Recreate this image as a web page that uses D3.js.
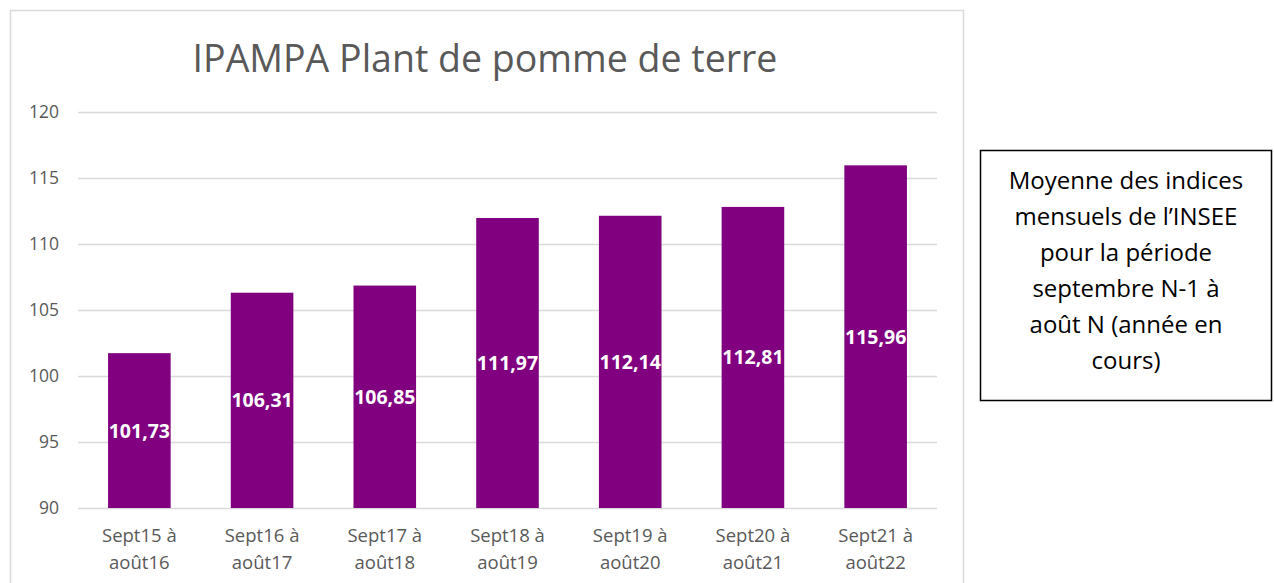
<!DOCTYPE html>
<html>
<head>
<meta charset="utf-8">
<script src="https://cdn.jsdelivr.net/npm/d3@7"></script>
<style>
  body { margin: 0; background: #fff; }
  svg { display: block; }
</style>
</head>
<body>
<div id="chart"></div>
<script>
const WIDTH = 1274;
const HEIGHT = 583;

// data
const periodsTop = ["Sept15 à", "Sept16 à", "Sept17 à", "Sept18 à", "Sept19 à", "Sept20 à", "Sept21 à"];
const periodsBottom = ["août16", "août17", "août18", "août19", "août20", "août21", "août22"];
const indexValues = [101.73, 106.31, 106.85, 111.97, 112.14, 112.81, 115.96];
const yTicks = [90, 95, 100, 105, 110, 115, 120];
const noteLines = ["Moyenne des indices", "mensuels de l’INSEE", "pour la période", "septembre N-1 à", "août N (année en", "cours)"];

var svg = d3.select("#chart")
            .append("svg")
            .attr("width", WIDTH)
            .attr("height", HEIGHT);

// chart area frame
svg.append("rect")
    .attr("x", 10.5)
    .attr("y", 10.5)
    .attr("width", 953)
    .attr("height", 600)
    .attr("fill", "#fff")
    .attr("stroke", "#d9d9d9")
    .attr("stroke-width", 1.5);

svg.append("text")
    .attr("x", 485)
    .attr("y", 72)
    .attr("text-anchor", "middle")
    .attr("fill", "#595959")
    .style("font-family", "'Open Sans', sans-serif")
    .style("font-size", "37.5px")
    .text("IPAMPA Plant de pomme de terre");

var x = d3.scaleBand()
            .domain(d3.range(indexValues.length))
            .range([78, 937])
            .paddingInner(0.49)
            .paddingOuter(0.245);

var y = d3.scaleLinear()
            .domain([90, 120])
            .range([508, 112]);

// gridlines
svg.append("g")
    .selectAll("line").data(yTicks)
    .enter().append("line")
    .attr("x1", 78)
    .attr("x2", 937)
    .attr("y1", d => Math.round(y(d)) + 0.5)
    .attr("y2", d => Math.round(y(d)) + 0.5)
    .attr("stroke", "#d9d9d9")
    .attr("stroke-width", 1.5);

// y axis labels
var yAxis = d3.axisLeft(y).tickValues(yTicks).tickSize(0).tickPadding(19);
var yg = svg.append("g")
    .attr("transform", "translate(78,0)")
    .call(yAxis);
yg.select(".domain").remove();
yg.selectAll("text")
    .attr("fill", "#595959")
    .style("font-family", "'Open Sans', sans-serif")
    .style("font-size", "17.5px");

// bars
svg.append("g")
    .selectAll("rect").data(indexValues)
    .enter().append("rect")
    .attr("x", (d, i) => x(i))
    .attr("y", d => y(d))
    .attr("width", x.bandwidth())
    .attr("height", d => y(90) - y(d))
    .attr("fill", "#800080");

// value labels, centred in the bar
svg.append("g")
    .selectAll("text").data(indexValues)
    .enter().append("text")
    .attr("x", (d, i) => x(i) + x.bandwidth() / 2)
    .attr("y", d => (y(d) + y(90)) / 2 + 7)
    .attr("text-anchor", "middle")
    .attr("fill", "#fff")
    .style("font-family", "'Open Sans', sans-serif")
    .style("font-weight", 700)
    .style("font-size", "19.5px")
    .text(d => d.toFixed(2).replace(".", ","));

// category labels (two lines)
var cats = svg.append("g")
    .selectAll("text").data(periodsTop)
    .enter().append("text")
    .attr("text-anchor", "middle")
    .attr("fill", "#595959")
    .style("font-family", "'Open Sans', sans-serif")
    .style("font-size", "18.5px");
cats.append("tspan")
    .attr("x", (d, i) => x(i) + x.bandwidth() / 2)
    .attr("y", 542)
    .text(d => d);
cats.append("tspan")
    .attr("x", (d, i) => x(i) + x.bandwidth() / 2)
    .attr("y", 569)
    .text((d, i) => periodsBottom[i]);

// note box
svg.append("rect")
    .attr("x", 980.5)
    .attr("y", 150.5)
    .attr("width", 291)
    .attr("height", 250)
    .attr("fill", "#fff")
    .attr("stroke", "#000")
    .attr("stroke-width", 1.5);

svg.append("g")
    .selectAll("text").data(noteLines)
    .enter().append("text")
    .attr("x", 1126)
    .attr("y", (d, i) => 189 + i * 36)
    .attr("text-anchor", "middle")
    .attr("fill", "#000")
    .style("font-family", "'Open Sans', sans-serif")
    .style("font-size", "24px")
    .text(d => d);
</script>
</body>
</html>
